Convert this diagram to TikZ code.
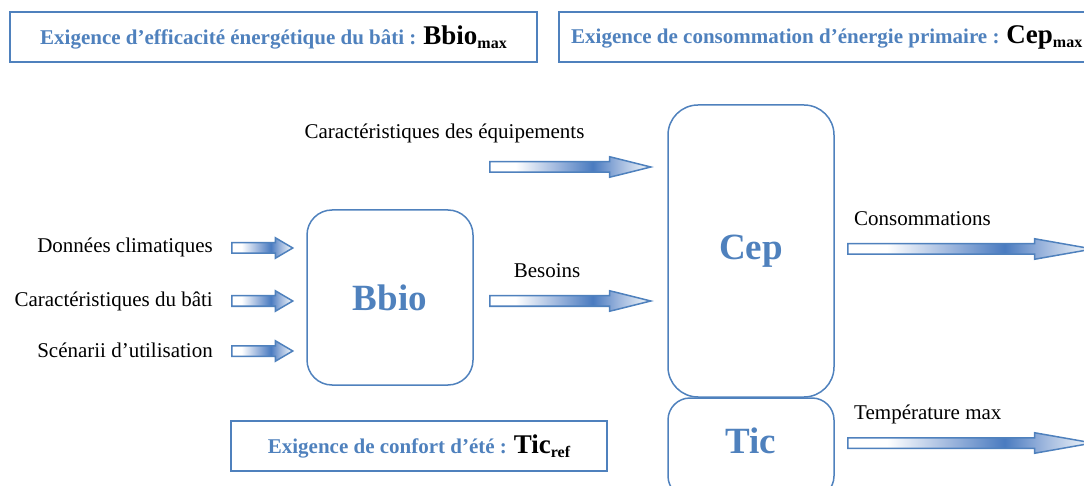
\documentclass[tikz,border=0pt]{standalone}
\usepackage{fontspec}
\setmainfont{Liberation Serif}
\usetikzlibrary{shapes.arrows}
\definecolor{frameblue}{HTML}{4F81BD}
\definecolor{arrowdark}{HTML}{4A7BC0}
\definecolor{arrowmid}{HTML}{9DB6DD}
\definecolor{arrowlight}{HTML}{DCE6F2}
\pgfdeclarehorizontalshading{arrowfill}{100bp}{color(0bp)=(white); color(25bp)=(white); color(33bp)=(white); color(46bp)=(arrowmid); color(57bp)=(arrowdark); color(65bp)=(arrowmid); color(72bp)=(arrowlight); color(75bp)=(arrowlight); color(100bp)=(arrowlight)}
\newcommand{\reqval}[2]{{\color{black}\fontsize{27}{30}\selectfont #1\raisebox{-0.35ex}{\fontsize{16}{18}\selectfont #2}}}

\begin{document}
\begin{tikzpicture}[x=1pt, y=-1pt,
    reqbox/.style={draw=frameblue, line width=1.5pt, minimum height=50pt, inner sep=0pt, text=frameblue, font=\fontsize{21}{25}\selectfont\bfseries},
    calcbox/.style={draw=frameblue, line width=1.5pt, rounded corners=25pt, minimum width=166pt, text=frameblue, font=\fontsize{37}{40}\selectfont\bfseries},
    flowarrow/.style={single arrow, draw=frameblue, line width=1.5pt, shade, shading=arrowfill, inner xsep=0pt, inner ysep=4.5pt, single arrow head extend=5pt, single arrow head indent=0pt, anchor=tail},
    lbl/.style={inner sep=0pt, font=\fontsize{21}{25}\selectfont}]
    \useasboundingbox (0,0) rectangle (1084,486);
    \clip (0,0) rectangle (1084,486);

    \node[reqbox, minimum width=527pt] (bbiomax) at (273.5,37) {Exigence d’efficacité énergétique du bâti : \reqval{Bbio}{max}};
    \node[reqbox, minimum width=536pt, anchor=west] (cepmax) at (558,37) {Exigence de consommation d’énergie primaire : \reqval{Cep}{max}};
    \node[reqbox, minimum width=376pt] (ticref) at (419,446) {Exigence de confort d’été : \reqval{Tic}{ref}};

    \node[calcbox, minimum height=175pt] (bbio) at (390,297.5) {Bbio};
    \node[calcbox, minimum height=292pt, rounded corners=30pt] (cep) at (751,251) {Cep};
    \node[calcbox, minimum height=100pt, rounded corners=22pt, text depth=14pt] (tic) at (751,448) {Tic};

    \node[flowarrow, minimum height=61pt, single arrow tip angle=61] (inclim) at (231,248) {};
    \node[flowarrow, minimum height=61pt, single arrow tip angle=61] (inbati) at (231,301) {};
    \node[flowarrow, minimum height=61pt, single arrow tip angle=61] (inscen) at (231,351) {};
    \node[flowarrow, minimum height=161pt, single arrow tip angle=28] (inequip) at (489,167) {};
    \node[flowarrow, minimum height=161pt, single arrow tip angle=28] (besoins) at (489,301) {};
    \node[flowarrow, minimum height=245pt, single arrow tip angle=20] (conso) at (847,249) {};
    \node[flowarrow, minimum height=245pt, single arrow tip angle=20] (tempmax) at (847,443) {};

    \node[lbl] (equiplbl) at (444.5,133) {Caractéristiques des équipements};
    \node[lbl, anchor=east] (climlbl) at (213,247) {Données climatiques};
    \node[lbl, anchor=east] (batilbl) at (213,301) {Caractéristiques du bâti};
    \node[lbl, anchor=east] (scenlbl) at (213,350) {Scénarii d’utilisation};
    \node[lbl] (besoinslbl) at (547,271) {Besoins};
    \node[lbl, anchor=west] (consolbl) at (854,219) {Consommations};
    \node[lbl, anchor=west] (templbl) at (854,414) {Température max};
\end{tikzpicture}
\end{document}
